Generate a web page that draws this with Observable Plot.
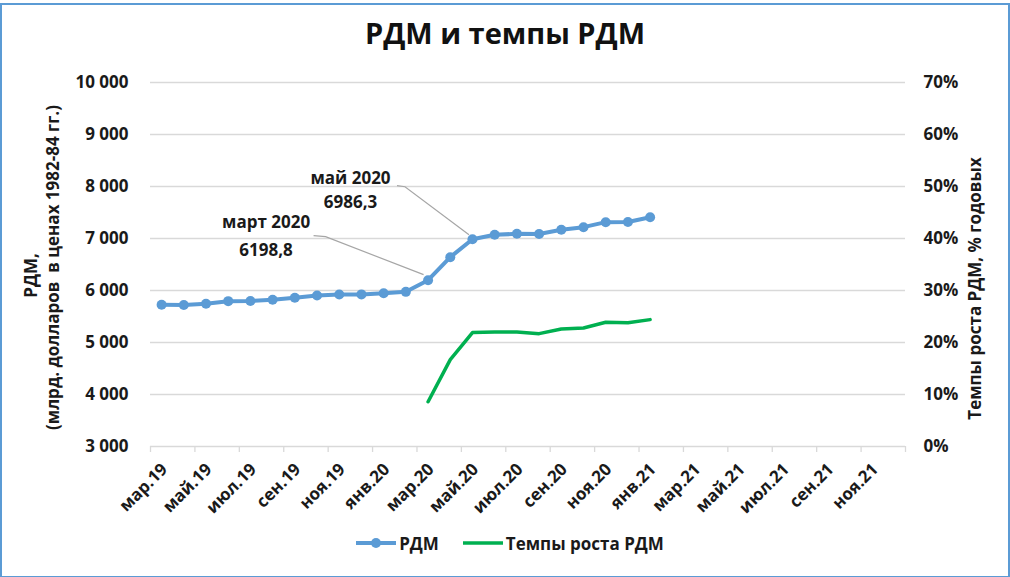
<!DOCTYPE html>
<html>
<head>
<meta charset="utf-8">
<script src="https://cdn.jsdelivr.net/npm/d3@7"></script>
<script src="https://cdn.jsdelivr.net/npm/@observablehq/plot@0.6"></script>
<style>
  html, body { margin: 0; padding: 0; background: #fff; }
  #wrap { position: relative; width: 1010px; height: 577px; overflow: hidden; font-family: "Open Sans", "Noto Sans", sans-serif; color: #1a1a1a; }
  #frame { position: absolute; left: 0; top: 3px; width: 1006px; height: 571px; border: 2px solid #5b9bd5; pointer-events: none; }
  #title { height: 60px; line-height: 66px; text-align: center; font-weight: 700; font-size: 29px; color: #111; }
  #legend { display: flex; justify-content: center; align-items: center; gap: 24px; font-size: 17px; font-weight: 700; height: 46px; margin-left: 10px; }
  .item { display: flex; align-items: center; gap: 3px; }
  svg { display: block; }
</style>
</head>
<body>
<div id="wrap">
  <div id="title">РДМ и темпы РДМ</div>
  <div id="chart"></div>
  <div id="legend">
    <div class="item"><svg width="40" height="12"><line x1="0" y1="6" x2="40" y2="6" stroke="#5b9bd5" stroke-width="4"/><circle cx="20" cy="6" r="5" fill="#5b9bd5"/></svg><span>РДМ</span></div>
    <div class="item"><svg width="40" height="12"><line x1="0" y1="6" x2="40" y2="6" stroke="#00b050" stroke-width="3.5"/></svg><span>Темпы роста РДМ</span></div>
  </div>
  <div id="frame"></div>
</div>
<script>
// ---- data ----
const months = ["мар.19","апр.19","май.19","июн.19","июл.19","авг.19","сен.19","окт.19","ноя.19","дек.19","янв.20","фев.20",
                "мар.20","апр.20","май.20","июн.20","июл.20","авг.20","сен.20","окт.20","ноя.20","дек.20","янв.21"];
const rdm = [5725,5722,5744,5795,5797,5821,5860,5904,5923,5925,5948,5974,
             6198.8,6641,6986.3,7071,7090,7088,7167,7218,7314,7316,7410];
const growth = [null,null,null,null,null,null,null,null,null,null,null,null,
                8.6,16.7,21.9,22.0,22.0,21.7,22.6,22.8,23.9,23.8,24.4];
const axisLabels = ["мар.19","май.19","июл.19","сен.19","ноя.19","янв.20","мар.20","май.20","июл.20","сен.20","ноя.20","янв.21",
                    "мар.21","май.21","июл.21","сен.21","ноя.21"];
const leftTicks = [3000,4000,5000,6000,7000,8000,9000,10000];
const rightTicks = [0,10,20,30,40,50,60,70];
const notes = [
  {month: "мар.20", title: "март 2020", label: "6198,8"},
  {month: "май.20", title: "май 2020", label: "6986,3"}
];

// ---- derived table ----
const monthsOnAxis = axisLabels.length * 2;
const rows = months.map((m, i) => ({month: m, pos: i + 0.5, rdm: rdm[i], growth: growth[i]}));
const yMin = leftTicks[0], yMax = leftTicks[leftTicks.length - 1];
const gScale = (yMax - yMin) / (rightTicks[rightTicks.length - 1] - rightTicks[0]);
const gToY = g => yMin + (g - rightTicks[0]) * gScale;
const growthRows = rows.filter(d => d.growth != null);
const noteRows = notes.map(n => ({...rows.find(r => r.month === n.month), ...n}));
const fmt = d3.format(",");
const fmtNum = v => fmt(v).replace(/,/g, " ");

// annotation styling (pixel offsets from the labelled point)
const noteStyle = [
  {tx: -162, ty1: -58, ty2: -30, leader: [[-114, -44], [-102, -43], [-4, -5]]},
  {tx: -122, ty1: -61, ty2: -37, leader: [[-75, -53], [-67, -52], [-3, -4]]}
];

const leaders = (index, scales, values, dimensions, context) => {
  const g = d3.create("svg:g");
  noteRows.forEach((r, i) => {
    const px = scales.x(r.pos), py = scales.y(r.rdm);
    const pts = noteStyle[i].leader.map(([dx, dy]) => [px + dx, py + dy]);
    g.append("path").attr("d", d3.line()(pts)).attr("fill", "none").attr("stroke", "#a6a6a6").attr("stroke-width", 1.2);
  });
  return g.node();
};

const noteText = (i, field, dy) => Plot.text(noteRows.filter((d, j) => j === i), {
  x: "pos", y: "rdm", text: field, dx: noteStyle[i].tx, dy, fontSize: 17, fontWeight: 700
});

const plot = Plot.plot({
  width: 1010,
  height: 460,
  marginTop: 22,
  marginBottom: 74,
  marginLeft: 150,
  marginRight: 105,
  style: {fontFamily: "'Open Sans', 'Noto Sans', sans-serif", fontWeight: 700, fontSize: "17px", color: "#1a1a1a", background: "transparent", overflow: "visible"},
  x: {domain: [0, monthsOnAxis]},
  y: {domain: [yMin, yMax]},
  marks: [
    Plot.gridY(leftTicks.slice(1), {stroke: "#d9d9d9", strokeOpacity: 1, strokeWidth: 1.3}),
    Plot.ruleY([yMin], {stroke: "#d9d9d9", strokeWidth: 1.5}),
    Plot.axisX(d3.range(0, monthsOnAxis + 1, 2), {tickSize: 6, tickFormat: () => "", stroke: "#d9d9d9", strokeWidth: 1.3, label: null}),
    Plot.axisX(d3.range(0.5, monthsOnAxis, 2), {tickSize: 0, tickRotate: -45, tickPadding: 20, dx: 3, tickFormat: d => axisLabels[Math.round((d - 0.5) / 2)], label: null, fontSize: 17, fontWeight: 700}),
    Plot.axisY(leftTicks, {anchor: "left", tickSize: 0, tickPadding: 22, tickFormat: fmtNum, label: null, fontSize: 17, fontWeight: 700}),
    Plot.axisY(leftTicks, {anchor: "right", tickSize: 0, tickPadding: 18, tickFormat: (d, i) => rightTicks[i] + "%", label: null, fontSize: 17, fontWeight: 700}),
    Plot.text(["РДМ,"], {frameAnchor: "left", textAnchor: "middle", dx: -119, dy: 11, rotate: -90, fontSize: 17, fontWeight: 700, text: d => d}),
    Plot.text(["(млрд. долларов  в ценах 1982-84 гг.)"], {frameAnchor: "left", textAnchor: "middle", dx: -97, dy: 3, rotate: -90, fontSize: 17, fontWeight: 700, text: d => d}),
    Plot.text(["Темпы роста РДМ, % годовых"], {frameAnchor: "right", textAnchor: "middle", dx: 70, dy: 24, rotate: -90, fontSize: 17, fontWeight: 700, text: d => d}),
    leaders,
    Plot.line(growthRows, {x: "pos", y: d => gToY(d.growth), stroke: "#00b050", strokeWidth: 3.5}),
    Plot.line(rows, {x: "pos", y: "rdm", stroke: "#5b9bd5", strokeWidth: 4}),
    Plot.dot(rows, {x: "pos", y: "rdm", r: 5, fill: "#5b9bd5"}),
    noteText(0, "title", noteStyle[0].ty1),
    noteText(0, "label", noteStyle[0].ty2),
    noteText(1, "title", noteStyle[1].ty1),
    noteText(1, "label", noteStyle[1].ty2)
  ]
});
document.getElementById("chart").appendChild(plot);
</script>
</body>
</html>
